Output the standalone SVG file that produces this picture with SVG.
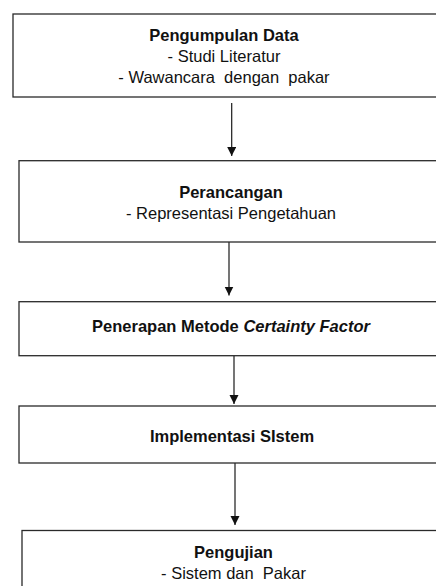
<svg xmlns="http://www.w3.org/2000/svg" width="436" height="586" viewBox="0 0 436 586">
  <defs>
    <style>
      .box { fill: #ffffff; stroke: #2a2a2a; stroke-width: 1.3; }
      .conn { fill: none; stroke: #1a1a1a; stroke-width: 1.2; }
      text { font-family: "Liberation Sans", Arial, sans-serif; font-size: 16.5px; fill: #111; text-anchor: middle; }
      .b { font-weight: bold; }
      .bi { font-weight: bold; font-style: italic; }
    </style>
    <marker id="ah" markerUnits="userSpaceOnUse" markerWidth="10" markerHeight="10" refX="9" refY="4.5" orient="auto">
      <path d="M0,0 L9,4.5 L0,9 z" fill="#111"/>
    </marker>
  </defs>
  <rect width="436" height="586" fill="#ffffff"/>

  <g id="connectors">
    <line class="conn" x1="231.7" y1="103" x2="231.7" y2="156" marker-end="url(#ah)"/>
    <line class="conn" x1="229" y1="242" x2="229" y2="295.5" marker-end="url(#ah)"/>
    <line class="conn" x1="234" y1="356" x2="234" y2="404" marker-end="url(#ah)"/>
    <line class="conn" x1="235" y1="463" x2="235" y2="525" marker-end="url(#ah)"/>
  </g>

  <g id="node-pengumpulan">
    <rect class="box" x="13" y="14" width="440" height="83"/>
    <text class="b" x="224" y="41">Pengumpulan Data</text>
    <text x="224" y="62">- Studi Literatur</text>
    <text x="224" y="83" xml:space="preserve">- Wawancara  dengan  pakar</text>
  </g>

  <g id="node-perancangan">
    <rect class="box" x="19" y="160.7" width="440" height="81.3"/>
    <text class="b" x="231" y="198">Perancangan</text>
    <text x="231" y="219">- Representasi Pengetahuan</text>
  </g>

  <g id="node-penerapan">
    <rect class="box" x="19" y="301.7" width="440" height="54"/>
    <text x="231" y="332"><tspan class="b">Penerapan Metode </tspan><tspan class="bi">Certainty Factor</tspan></text>
  </g>

  <g id="node-implementasi">
    <rect class="box" x="19" y="406" width="440" height="57"/>
    <text class="b" x="232" y="442">Implementasi SIstem</text>
  </g>

  <g id="node-pengujian">
    <rect class="box" x="22" y="530.5" width="440" height="80"/>
    <text class="b" x="233.5" y="558">Pengujian</text>
    <text x="233.5" y="579" xml:space="preserve">- Sistem dan  Pakar</text>
  </g>
</svg>
